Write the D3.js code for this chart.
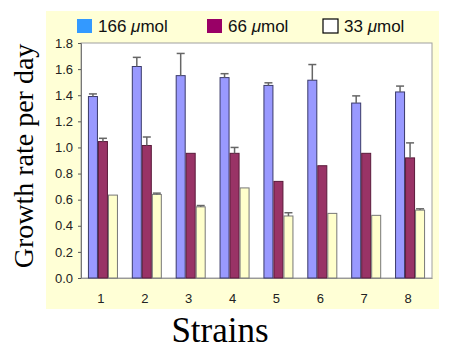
<!DOCTYPE html>
<html><head><meta charset="utf-8">
<script src="https://cdn.jsdelivr.net/npm/d3@7"></script>
<style>body{margin:0;background:#fff}svg{display:block}</style>
</head><body>
<svg id="c" width="456" height="357"></svg>
<script>
const strains = ["1","2","3","4","5","6","7","8"];
const seriesNames = ["166", "66", "33"];
const v166 = [1.39, 1.62, 1.55, 1.535, 1.475, 1.515, 1.34, 1.425];
const e166 = [0.02, 0.07, 0.17, 0.03, 0.02, 0.12, 0.055, 0.045];
const v66 = [1.045, 1.015, 0.955, 0.955, 0.74, 0.86, 0.955, 0.92];
const e66 = [0.025, 0.065, 0, 0.045, 0, 0, 0, 0.115];
const v33 = [0.635, 0.64, 0.545, 0.69, 0.475, 0.495, 0.48, 0.52];
const e33 = [0, 0.01, 0.01, 0, 0.025, 0, 0, 0.01];
const yTicks = [0, 0.2, 0.4, 0.6, 0.8, 1.0, 1.2, 1.4, 1.6, 1.8];

const vals = [v166, v66, v33], errs = [e166, e66, e33];
const fills = ["#9999ff", "#993366", "#ffffcc"];
const strokes = ["#3a3a6a", "#5a1a3a", "#777"];
const legendFills = ["#3399ff", "#990066", "#ffffff"];

const svg = d3.select("#c");
svg.append("rect").attr("x",46).attr("y",11).attr("width",393).attr("height",298).attr("fill","#ffffd6");

const L=81, R=432, T=43, B=278;
svg.append("rect").attr("x",L).attr("y",T).attr("width",R-L).attr("height",B-T).attr("fill","#fff").attr("stroke","#a0a0a0");

const x0 = d3.scaleBand().domain(strains).range([L,R]).paddingInner(0.316).paddingOuter(0.158);
const x1 = d3.scaleBand().domain(seriesNames).range([0, x0.bandwidth()]);
const y = d3.scaleLinear().domain([0,1.8]).range([B,T]);

// y axis
const ya = svg.append("g").attr("transform",`translate(${L},0)`)
  .call(d3.axisLeft(y).tickValues(yTicks).tickFormat(d3.format(".1f")).tickSize(3).tickPadding(5));
ya.select(".domain").attr("stroke","#777");
ya.selectAll(".tick line").attr("stroke","#555");
ya.selectAll("text").attr("font-family","Arial, 'Liberation Sans', sans-serif").attr("font-size",13).attr("fill","#222");

// x axis
const xa = svg.append("g").attr("transform",`translate(0,${B})`)
  .call(d3.axisBottom(x0).tickSize(0).tickPadding(16));
xa.select(".domain").attr("stroke","#999");
xa.selectAll("text").attr("font-family","Arial, 'Liberation Sans', sans-serif").attr("font-size",13).attr("fill","#222").attr("dx",-2);

// bars
seriesNames.forEach((s,si)=>{
  const g = svg.append("g");
  g.selectAll("rect").data(strains).join("rect")
    .attr("x", (d,i)=>x0(d)+x1(s)+0.5)
    .attr("y", (d,i)=>y(vals[si][i]))
    .attr("width", x1.bandwidth()-1)
    .attr("height", (d,i)=>B-y(vals[si][i]))
    .attr("fill", fills[si]).attr("stroke", strokes[si]).attr("stroke-width",1);
  const eg = svg.append("g").attr("stroke","#666").attr("stroke-width",1.5);
  strains.forEach((d,i)=>{
    const e = errs[si][i];
    if(!e) return;
    const cx = x0(d)+x1(s)+x1.bandwidth()/2;
    eg.append("line").attr("x1",cx).attr("x2",cx).attr("y1",y(vals[si][i])).attr("y2",y(vals[si][i]+e));
    eg.append("line").attr("x1",cx-4).attr("x2",cx+4).attr("y1",y(vals[si][i]+e)).attr("y2",y(vals[si][i]+e));
  });
});

// legend
const legX = [77, 207, 323];
seriesNames.forEach((s,i)=>{
  svg.append("rect").attr("x",legX[i]).attr("y",19).attr("width",15).attr("height",14)
    .attr("fill",legendFills[i]).attr("stroke", i===2?"#000":"none").attr("stroke-width",1.2);
  const t = svg.append("text").attr("x",legX[i]+21).attr("y",32)
    .attr("font-family","Arial, 'Liberation Sans', sans-serif").attr("font-size",17).attr("fill","#111");
  t.append("tspan").text(s+" ");
  t.append("tspan").attr("font-style","italic").text("\u03bc");
  t.append("tspan").text("mol");
});

// axis titles
svg.append("text").attr("x",220).attr("y",342).attr("text-anchor","middle")
  .attr("font-family","'Liberation Serif', 'Times New Roman', serif").attr("font-size",35).attr("fill","#000").text("Strains");
svg.append("text").attr("transform","translate(33,156) rotate(-90)").attr("text-anchor","middle")
  .attr("font-family","'Liberation Serif', 'Times New Roman', serif").attr("font-size",28).attr("fill","#000").text("Growth rate per day");
</script>
</body></html>
